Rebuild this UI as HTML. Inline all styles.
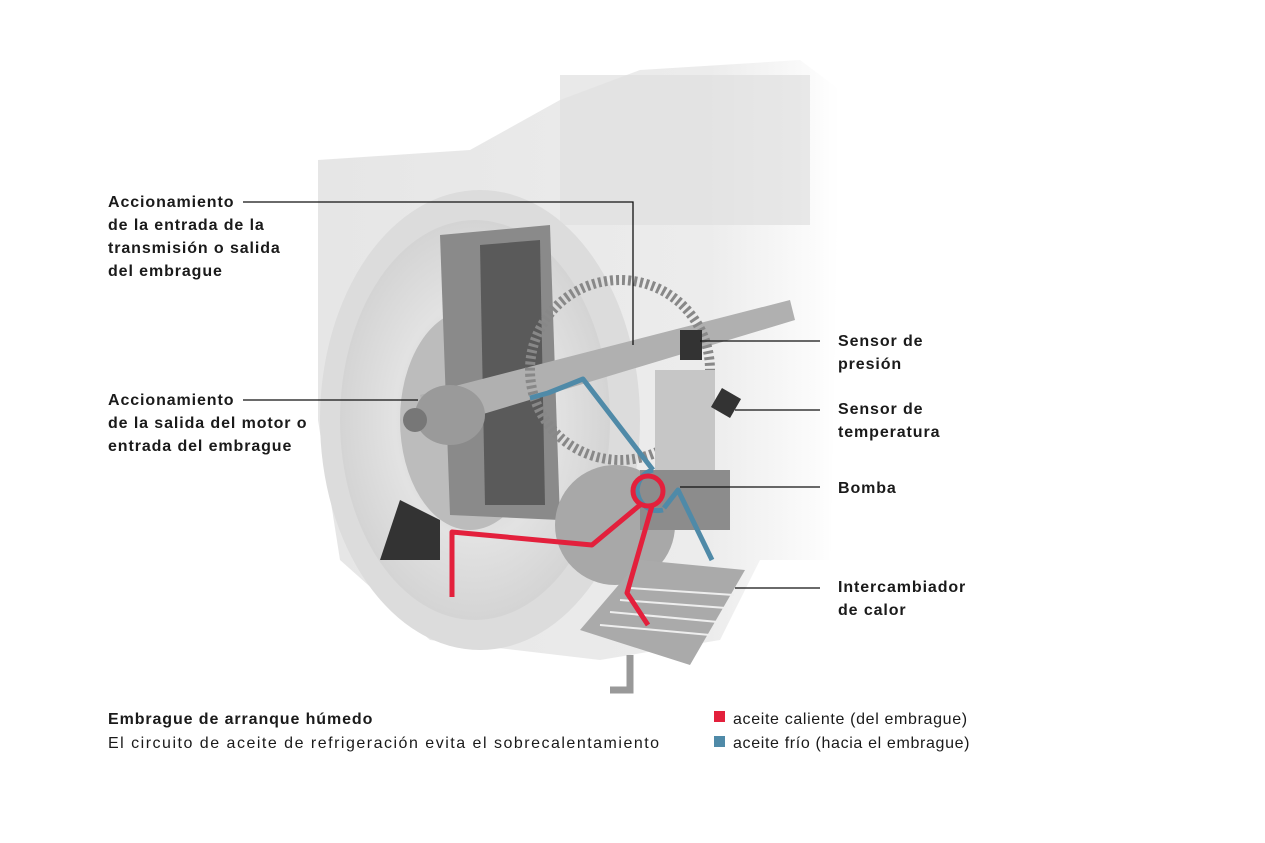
<!DOCTYPE html>
<html><head><meta charset="utf-8"><style>
body{margin:0;width:1265px;height:843px;background:#fff;overflow:hidden;position:relative;font-family:"Liberation Sans",sans-serif;color:#1a1a1a}
.l{position:absolute;font-weight:bold;font-size:16px;line-height:23px;letter-spacing:.9px}
.c{position:absolute;font-size:16px;line-height:23px;letter-spacing:.65px}
svg{position:absolute;left:0;top:0}
</style></head><body>
<svg width="1265" height="843">
<defs>
<radialGradient id="fw" cx="0.5" cy="0.5" r="0.5"><stop offset="0" stop-color="#c8c8c8"/><stop offset="0.6" stop-color="#e2e2e2"/><stop offset="1" stop-color="#d4d4d4"/></radialGradient>
<linearGradient id="fade" x1="0" x2="1"><stop offset="0" stop-color="#e6e6e6"/><stop offset="0.75" stop-color="#ececec"/><stop offset="1" stop-color="#fff"/></linearGradient>
</defs>
<path d="M318,160 L470,150 L560,100 L640,70 L800,60 L840,90 L830,560 L760,560 L720,640 L600,660 L430,640 L340,560 L318,420 Z" fill="url(#fade)"/>
<rect x="560" y="75" width="250" height="150" fill="#e0e0e0" opacity=".7"/>
<ellipse cx="480" cy="420" rx="160" ry="230" fill="#dcdcdc"/>
<ellipse cx="475" cy="420" rx="135" ry="200" fill="url(#fw)"/>
<ellipse cx="470" cy="420" rx="70" ry="110" fill="#bcbcbc"/>
<path d="M440,235 L550,225 L560,520 L450,515 Z" fill="#8a8a8a"/>
<path d="M480,245 L540,240 L545,505 L485,505 Z" fill="#5a5a5a"/>
<path d="M420,395 L790,300 L795,320 L430,430 Z" fill="#b0b0b0"/>
<ellipse cx="450" cy="415" rx="35" ry="30" fill="#9a9a9a"/>
<ellipse cx="415" cy="420" rx="12" ry="12" fill="#777"/>
<circle cx="620" cy="370" r="90" fill="none" stroke="#888" stroke-width="10" stroke-dasharray="3 3"/>
<circle cx="615" cy="525" r="60" fill="#a8a8a8"/>
<rect x="655" y="370" width="60" height="120" fill="#c6c6c6"/>
<rect x="680" y="330" width="22" height="30" fill="#333"/>
<rect x="715" y="392" width="22" height="22" fill="#333" transform="rotate(30 726 403)"/>
<rect x="640" y="470" width="90" height="60" fill="#8c8c8c"/>
<path d="M580,630 L640,560 L745,570 L690,665 Z" fill="#aaa"/>
<g stroke="#eee" stroke-width="2"><line x1="600" y1="625" x2="710" y2="635"/><line x1="610" y1="612" x2="718" y2="622"/><line x1="620" y1="600" x2="726" y2="608"/><line x1="630" y1="588" x2="734" y2="595"/></g>
<path d="M400,500 L440,520 L440,560 L380,560 Z" fill="#333"/>
<path d="M630,655 L630,690 L610,690" stroke="#999" stroke-width="7" fill="none"/>
<g fill="none" stroke="#4f8aa8" stroke-width="5" stroke-linejoin="round">
<polyline points="530,398 548,393 583,379 653,470"/>
<path d="M653,470 A16,16 0 1,0 663,510"/>
<polyline points="664,508 678,490 712,560"/>
</g>
<g fill="none" stroke="#e3203c" stroke-width="5" stroke-linejoin="round">
<circle cx="648" cy="491" r="15"/>
<polyline points="640,505 592,545 452,532 452,597"/>
<polyline points="652,506 627,593 648,625"/>
</g>
<g stroke="#111" stroke-width="1.3" fill="none">
<polyline points="243,202 633,202 633,345"/>
<line x1="243" y1="400" x2="418" y2="400"/>
<line x1="700" y1="341" x2="820" y2="341"/>
<line x1="735" y1="410" x2="820" y2="410"/>
<line x1="680" y1="487" x2="820" y2="487"/>
<line x1="735" y1="588" x2="820" y2="588"/>
</g>
<rect x="714" y="711" width="11" height="11" fill="#e3203c"/>
<rect x="714" y="736" width="11" height="11" fill="#4f8aa8"/>
</svg>
<div class="l" style="left:108px;top:191px">Accionamiento<br>de la entrada de la<br>transmisión o salida<br>del embrague</div>
<div class="l" style="left:108px;top:389px">Accionamiento<br>de la salida del motor o<br>entrada del embrague</div>
<div class="l" style="left:838px;top:330px">Sensor de<br>presión</div>
<div class="l" style="left:838px;top:398px">Sensor de<br>temperatura</div>
<div class="l" style="left:838px;top:477px">Bomba</div>
<div class="l" style="left:838px;top:576px">Intercambiador<br>de calor</div>
<div class="l" style="left:108px;top:708px">Embrague de arranque húmedo</div>
<div class="c" style="left:108px;top:732px;letter-spacing:1.5px">El circuito de aceite de refrigeración evita el sobrecalentamiento</div>
<div class="c" style="left:733px;top:708px">aceite caliente (del embrague)</div>
<div class="c" style="left:733px;top:732px">aceite frío (hacia el embrague)</div>
</body></html>
